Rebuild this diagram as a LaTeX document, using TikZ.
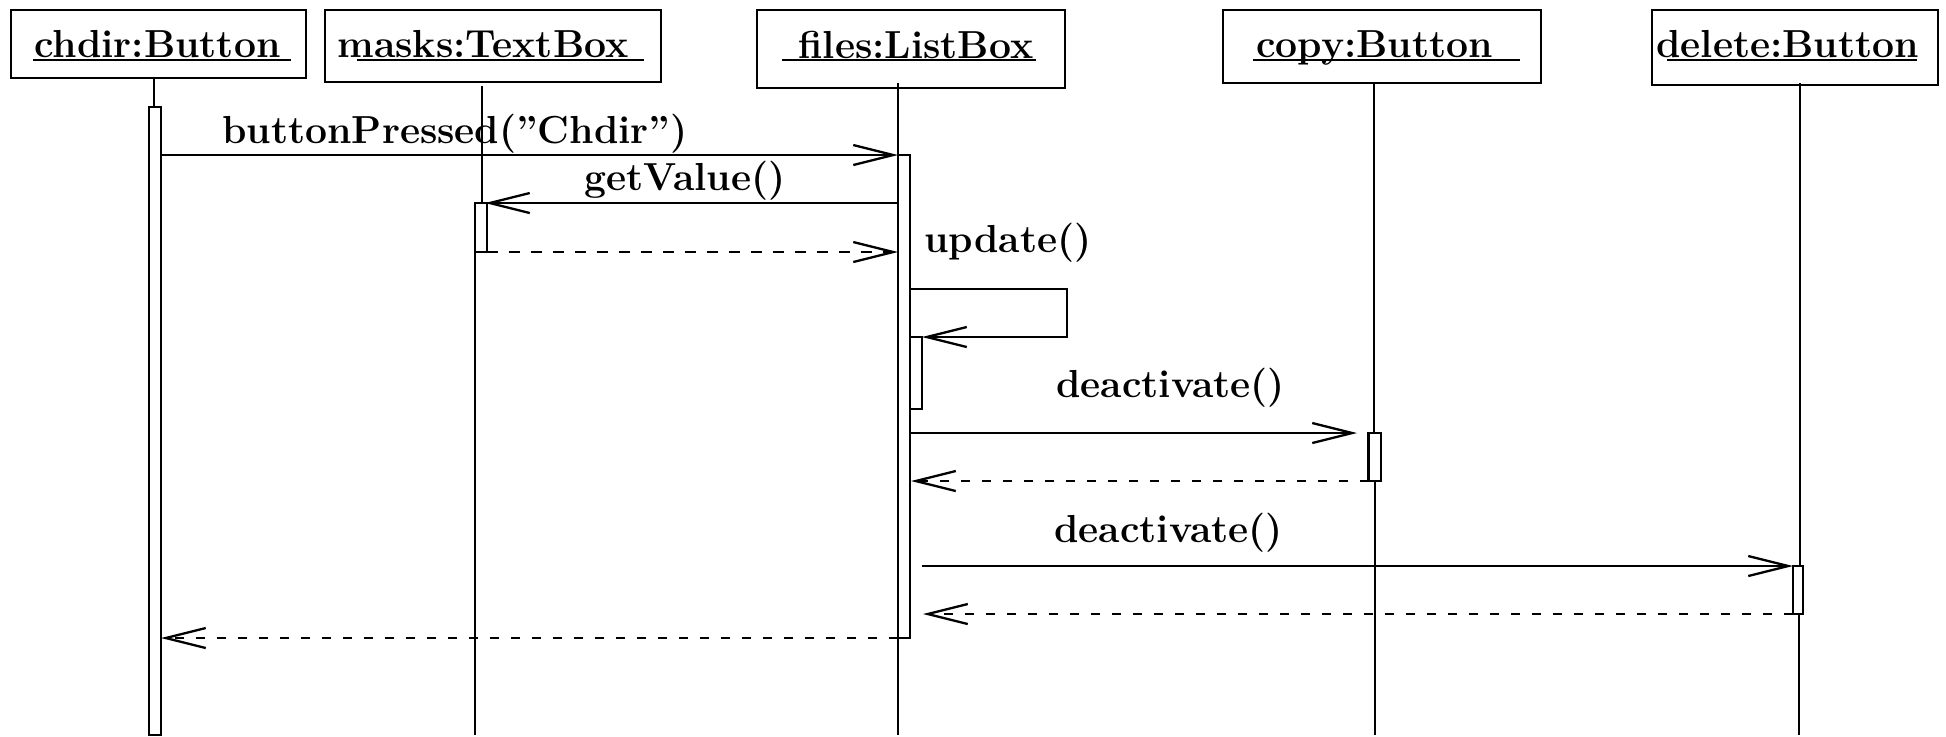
\documentclass[tikz,border=0pt]{standalone}
\usetikzlibrary{arrows.meta}
\begin{document}
\begin{tikzpicture}[x=0.5pt,y=-0.5pt,
  objbox/.style={draw, line width=1.3pt, inner sep=0pt},
  lbl/.style={anchor=base west, inner sep=0pt, font=\fontsize{19.55}{23.5}\selectfont\bfseries},
  uline/.style={line width=1pt},
  life/.style={line width=1.15pt},
  act/.style={draw, line width=1.15pt, fill=white},
  msg/.style={line width=1.15pt, -{Straight Barb[length=20pt,width=10pt,line width=1.15pt]}},
  ret/.style={msg, dash pattern=on 4.5pt off 6pt},
  ret1/.style={msg, dash pattern=on 5.5pt off 5.5pt}]
\useasboundingbox (0,0) rectangle (1946,736);

% object boxes
\node[objbox, minimum width=147.5pt, minimum height=34pt] (bchdir) at (158.5,44) {};
\node[objbox, minimum width=168pt, minimum height=36pt] (bmasks) at (493,46) {};
\node[objbox, minimum width=154pt, minimum height=39pt] (bfiles) at (911,49) {};
\node[objbox, minimum width=159pt, minimum height=36.5pt] (bcopy) at (1382,46.5) {};
\node[objbox, minimum width=143pt, minimum height=37.5pt] (bdelete) at (1795,47.5) {};

% labels
\node[lbl] (lchdir) at (34,57) {chdir:Button};
\node[lbl] (lmasks) at (337,57) {masks:TextBox};
\node[lbl] (lfiles) at (798,58) {files:ListBox};
\node[lbl] (lcopy) at (1256,57) {copy:Button};
\node[lbl] (ldelete) at (1656,57) {delete:Button};

% underlines
\coordinate (u1a) at (33,59.5);   \coordinate (u1b) at (291,59.5);
\coordinate (u2a) at (357,59.5);  \coordinate (u2b) at (644,59.5);
\coordinate (u3a) at (782,60);    \coordinate (u3b) at (1036,60);
\coordinate (u4a) at (1253,59.5); \coordinate (u4b) at (1520,59.5);
\coordinate (u5a) at (1667,59.5); \coordinate (u5b) at (1917,59.5);
\draw[uline] (u1a) -- (u1b);
\draw[uline] (u2a) -- (u2b);
\draw[uline] (u3a) -- (u3b);
\draw[uline] (u4a) -- (u4b);
\draw[uline] (u5a) -- (u5b);

% lifeline coordinates
\coordinate (c0) at (154,78);    \coordinate (c1) at (154,107);
\coordinate (m0) at (482,86);    \coordinate (m1) at (482,203);
\coordinate (m2) at (475,252);   \coordinate (m3) at (475,735);
\coordinate (f0) at (898,83);    \coordinate (f1) at (898,735);
\coordinate (k0) at (1374,83);   \coordinate (k1) at (1374,433);
\coordinate (k2) at (1375,481);  \coordinate (k3) at (1375,735);
\coordinate (d0) at (1800,83);   \coordinate (d1) at (1800,566);
\coordinate (d2) at (1799,614);  \coordinate (d3) at (1799,735);

\draw[life] (c0) -- (c1);
\draw[life] (m0) -- (m1);
\draw[life] (m2) -- (m3);
\draw[life] (f0) -- (f1);
\draw[life] (k0) -- (k1);
\draw[life] (k2) -- (k3);
\draw[life] (d0) -- (d1);
\draw[life] (d2) -- (d3);

% activation bars
\coordinate (ac1) at (149,107);   \coordinate (ac2) at (161,735);
\coordinate (am1) at (475,203);   \coordinate (am2) at (486.7,252);
\coordinate (af1) at (898,155);   \coordinate (af2) at (910,638);
\coordinate (an1) at (910,337);   \coordinate (an2) at (922,409);
\coordinate (ak1) at (1368.6,433);\coordinate (ak2) at (1381,481);
\coordinate (ad1) at (1793,566);  \coordinate (ad2) at (1803,614);
\draw[act] (ac1) rectangle (ac2);
\draw[act] (am1) rectangle (am2);
\draw[act] (af1) rectangle (af2);
\draw[act] (an1) rectangle (an2);
\draw[act] (ak1) rectangle (ak2);
\draw[act] (ad1) rectangle (ad2);

% message end points
\coordinate (p1a) at (161,155);   \coordinate (p1b) at (898,155);
\coordinate (p2a) at (898,203);   \coordinate (p2b) at (485,203);
\coordinate (p3a) at (486.7,252); \coordinate (p3b) at (898,252);
\coordinate (p4a) at (910,289);   \coordinate (p4b) at (1067,289);
\coordinate (p4c) at (1067,337);  \coordinate (p4d) at (922,337);
\coordinate (p5a) at (910,433);   \coordinate (p5b) at (1357,433);
\coordinate (p6a) at (1368.6,481);\coordinate (p6b) at (911,481);
\coordinate (p7a) at (922,566);   \coordinate (p7b) at (1793,566);
\coordinate (p8a) at (1793,614);  \coordinate (p8b) at (923,614);
\coordinate (p9a) at (898,638);   \coordinate (p9b) at (161,638);

\draw[msg] (p1a) -- (p1b);
\draw[msg] (p2a) -- (p2b);
\draw[ret1] (p3a) -- (p3b);
\draw[msg] (p4a) -- (p4b) -- (p4c) -- (p4d);
\draw[msg] (p5a) -- (p5b);
\draw[ret] (p6a) -- (p6b);
\draw[msg] (p7a) -- (p7b);
\draw[ret] (p8a) -- (p8b);
\draw[ret] (p9a) -- (p9b);

% message labels
\node[lbl] (t1) at (222,143.3) {buttonPressed(”Chdir”)};
\node[lbl] (t2) at (584,190.7) {getValue()};
\node[lbl] (t3) at (924,252) {update()};
\node[lbl] (t4) at (1056,397) {deactivate()};
\node[lbl] (t5) at (1054,542) {deactivate()};
\end{tikzpicture}
\end{document}
